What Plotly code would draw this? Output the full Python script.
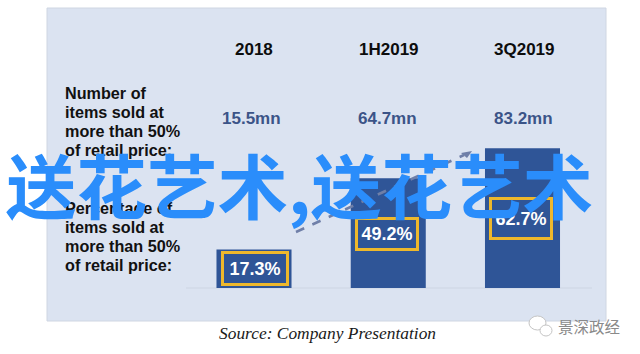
import plotly.graph_objects as go

periods = ["2018", "1H2019", "3Q2019"]
items_sold = ["15.5mn", "64.7mn", "83.2mn"]
share_pct = [17.3, 49.2, 62.7]
row_a = ["Number of", "items sold at", "more than 50%", "of retail price:"]
row_b = ["Percentage of", "items sold at", "more than 50%", "of retail price:"]
source = "Source: Company Presentation"
overlay = "送花艺术,送花艺术"
badge = "景深政经"

W, H = 640, 354
L, R, T, B = 47, 606, 8, 321
BASE = 288
PXY = 2.23
PXX = 134.25
X0 = 254

def xd(px):
    return (px - X0) / PXX

def yd(py):
    return (BASE - py) / PXY

def xp(px):
    return (px - L) / (R - L)

def yp(py):
    return 1 - (py - T) / (B - T)

fig = go.Figure()
fig.add_trace(go.Bar(x=[0, 1, 2], y=share_pct, width=0.559,
                     marker=dict(color="#2f5597", line_width=0), hoverinfo="skip"))

ann = []
def note(text, px, py, size, color, xanchor="center", **kw):
    ann.append(dict(text=text, x=xp(px), y=yp(py), xref="paper", yref="paper", captureevents=False,
                    showarrow=False, xanchor=xanchor, yanchor="middle",
                    font=dict(size=size, color=color, family=kw.pop("family", "Liberation Sans")), **kw))

head_x = [253.5, 388.5, 524.5]
value_x = [251.5, 387, 523.5]
for p, s, hx, vx in zip(periods, items_sold, head_x, value_x):
    note(f"<b>{p}</b>", hx, 50, 17, "#0d0d0d")
    note(f"<b>{s}</b>", vx, 118, 17, "#3b5488")

for lines, y0 in ((row_a, 93), (row_b, 208)):
    for j, line in enumerate(lines):
        note(f"<b>{line}</b>", 63, y0 + j * 19, 16.2, "#111111", xanchor="left")

boxes = [(254.5, 268.5, 62, 29), (387, 234, 58, 28), (521, 218.5, 58, 37)]
for v, (cx, cy, w, h) in zip(share_pct, boxes):
    note(f"<b>{v}%</b>", cx, cy, 18, "white", bordercolor="#eeb82c", borderwidth=3,
         borderpad=0, width=w, height=h, bgcolor="#2f5597", valign="middle")

note(f"<i>{source}</i>", 327, 333, 17.4, "#1a1a1a", family="Liberation Serif")
note(badge, 589, 326, 15.5, "#8a8a8a", family="Noto Sans CJK SC")
note(f"<b>{overlay}</b>", 299, 183, 70.5, "#2a8dfb", family="Noto Sans CJK SC")

def tri(points):
    return "M " + " L ".join(f"{xd(a)},{yd(b)}" for a, b in points) + " Z"

shapes = [
    dict(type="rect", xref="paper", yref="paper", x0=0, x1=1, y0=0, y1=1,
         fillcolor="#dbe3f1", line=dict(color="#cfd6e2", width=1), layer="below"),
    dict(type="line", xref="x", yref="y", x0=xd(186), x1=xd(592), y0=0, y1=0,
         line=dict(color="#cdd5e3", width=1), layer="below"),
    dict(type="line", xref="x", yref="y", x0=xd(296), x1=xd(464), y0=yd(232), y1=yd(155),
         line=dict(color="#6f7fa8", width=2.5, dash="dash"), layer="above"),
    dict(type="path", xref="x", yref="y", path=tri([(472, 151), (461, 153), (467, 158)]),
         fillcolor="#6f7fa8", line_width=0, layer="above"),
    dict(type="circle", xref="paper", yref="paper", x0=xp(529), x1=xp(546), y0=yp(330), y1=yp(316),
         fillcolor="white", line=dict(color="#c4c4c4", width=1), layer="above"),
    dict(type="circle", xref="paper", yref="paper", x0=xp(540), x1=xp(552), y0=yp(336), y1=yp(325),
         fillcolor="white", line=dict(color="#c4c4c4", width=1), layer="above"),
]

fig.update_layout(
    width=W, height=H, margin=dict(l=L, r=W - R, t=T, b=H - B, pad=0),
    paper_bgcolor="white", plot_bgcolor="rgba(0,0,0,0)", showlegend=False,
    xaxis=dict(range=[xd(L), xd(R)], visible=False, fixedrange=True),
    yaxis=dict(range=[yd(B), yd(T)], visible=False, fixedrange=True),
    annotations=ann, shapes=shapes,
)
fig.write_html("out.html", config={"displayModeBar": False},
               post_script="document.body.style.margin='0';document.body.style.overflow='hidden';")
